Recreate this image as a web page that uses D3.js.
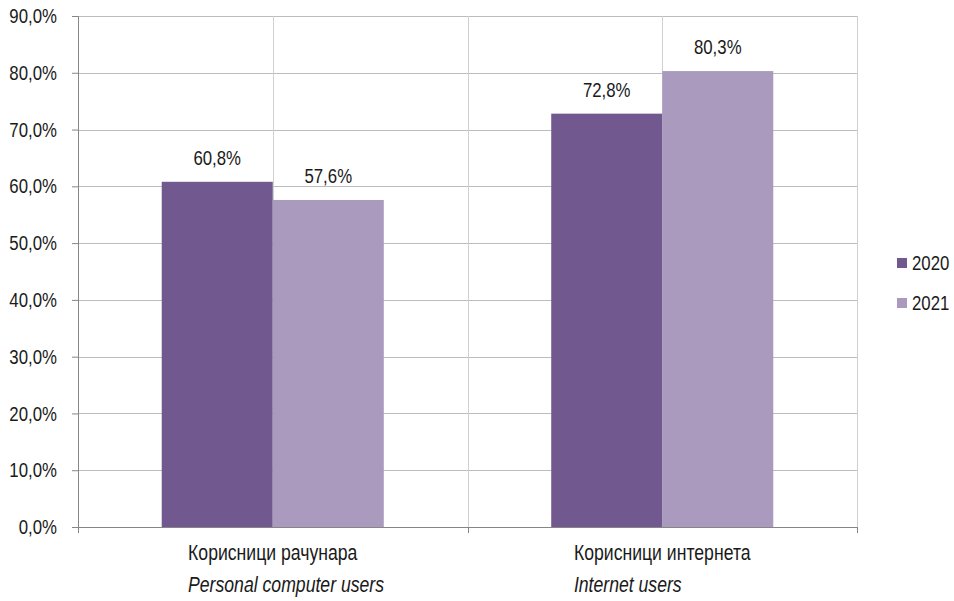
<!DOCTYPE html>
<html>
<head>
<meta charset="utf-8">
<script src="https://cdn.jsdelivr.net/npm/d3@7"></script>
<style>
  body { margin: 0; background: #fff; }
  text { font-family: "Liberation Sans", Arial, sans-serif; fill: #1a1a1a; }
</style>
</head>
<body>
<div id="chart"></div>
<script>
var categories = ["Корисници рачунара", "Корисници интернета"];
var categoriesEn = ["Personal computer users", "Internet users"];
var series = ["2020", "2021"];
var values2020 = [60.8, 72.8];
var values2021 = [57.6, 80.3];
var yTicks = [0, 10, 20, 30, 40, 50, 60, 70, 80, 90];

var colors = {"2020": "#71598f", "2021": "#a99abe"};

var data = categories.map(function(c, i) {
  return {cat: c, en: categoriesEn[i], vals: [
    {s: "2020", v: values2020[i]},
    {s: "2021", v: values2021[i]}
  ]};
});

var fullWidth = 954, fullHeight = 601;
var margin = {top: 16, right: 97, bottom: 74, left: 78};
var width = fullWidth - margin.left - margin.right;
var height = fullHeight - margin.top - margin.bottom;
var fs = '20.5px';
var fsCat = '21.5px';
// the reference uses a narrow face, so squeeze regular text horizontally
var narrow = 0.82;

var svg = d3.select('#chart').append('svg')
  .attr('width', fullWidth)
  .attr('height', fullHeight)
  .append('g')
    .attr('transform', 'translate(' + margin.left + ',' + margin.top + ')');

var x0 = d3.scaleBand().domain(categories).range([0, width]).padding(0);
var x1 = d3.scaleBand().domain(series).range([0, x0.bandwidth()])
  .paddingInner(0).paddingOuter(0.754);
var y = d3.scaleLinear().domain([0, 90]).range([height, 0]);

var fmt = function(v) { return v.toFixed(1).replace('.', ',') + '%'; };

// horizontal gridlines
svg.append('g').selectAll('line.h')
    .data(yTicks.filter(function(t) { return t > 0; }))
  .enter().append('line')
    .attr('x1', 0).attr('x2', width)
    .attr('y1', function(d) { return Math.round(y(d)) + 0.5; })
    .attr('y2', function(d) { return Math.round(y(d)) + 0.5; })
    .attr('stroke', '#bcbcbc').attr('stroke-width', 1);

// vertical gridlines: category centres and boundaries
var vlines = [];
categories.forEach(function(c) {
  vlines.push(x0(c) + x0.bandwidth() / 2);
  vlines.push(x0(c) + x0.bandwidth());
});
svg.append('g').selectAll('line.v')
    .data(vlines)
  .enter().append('line')
    .attr('x1', function(d) { return Math.round(d) + 0.5; })
    .attr('x2', function(d) { return Math.round(d) + 0.5; })
    .attr('y1', 0).attr('y2', height)
    .attr('stroke', '#d0d0d0').attr('stroke-width', 1);

// bars
var groups = svg.selectAll('g.cat')
    .data(data)
  .enter().append('g')
    .attr('transform', function(d) { return 'translate(' + x0(d.cat) + ',0)'; });

groups.selectAll('rect')
    .data(function(d) { return d.vals; })
  .enter().append('rect')
    .attr('x', function(d) { return x1(d.s); })
    .attr('width', x1.bandwidth())
    .attr('y', function(d) { return y(d.v); })
    .attr('height', function(d) { return height - y(d.v); })
    .attr('fill', function(d) { return colors[d.s]; });

groups.selectAll('text.val')
    .data(function(d) { return d.vals; })
  .enter().append('text')
    .attr('x', function(d) { return x1(d.s) + x1.bandwidth() / 2; })
    .attr('y', function(d) { return y(d.v) - 17; })
    .attr('text-anchor', 'middle')
    .style('font-size', fs)
    .text(function(d) { return fmt(d.v); });

// y axis
var yAxis = d3.axisLeft(y).tickValues(yTicks).tickSize(6).tickPadding(15)
  .tickFormat(function(d) { return d.toFixed(1).replace('.', ',') + '%'; });
var yg = svg.append('g').call(yAxis);
yg.attr('font-family', null).attr('font-size', null);
yg.select('.domain').attr('stroke', '#868686');
yg.selectAll('.tick line').attr('stroke', '#868686');
yg.selectAll('.tick text').style('font-size', fs).attr('fill', '#1a1a1a');

// x axis line with ticks at category boundaries
var xg = svg.append('g').attr('transform', 'translate(0,' + height + ')');
xg.append('line').attr('x1', 0).attr('x2', width).attr('y1', 0.5).attr('y2', 0.5)
  .attr('stroke', '#868686');
var bounds = [0].concat(categories.map(function(c) { return x0(c) + x0.bandwidth(); }));
xg.selectAll('line.tick')
    .data(bounds)
  .enter().append('line')
    .attr('x1', function(d) { return Math.round(d) + 0.5; })
    .attr('x2', function(d) { return Math.round(d) + 0.5; })
    .attr('y1', 0).attr('y2', 6)
    .attr('stroke', '#868686');

// category labels: first line centred, second line left aligned to it
data.forEach(function(d) {
  var cx = x0(d.cat) + x0.bandwidth() / 2;
  var t1 = xg.append('text')
    .attr('x', cx).attr('y', 33)
    .attr('text-anchor', 'middle')
    .style('font-size', fsCat)
    .text(d.cat);
  var w = t1.node().getComputedTextLength() * narrow;
  xg.append('text')
    .attr('x', cx - w / 2).attr('y', 65)
    .style('font-size', fsCat)
    .style('font-style', 'italic')
    .text(d.en);
});

// legend
var legend = svg.append('g')
  .attr('transform', 'translate(' + (width + 40) + ',' + (y(46.5)) + ')');
series.forEach(function(s, i) {
  var g = legend.append('g').attr('transform', 'translate(0,' + (i * 40) + ')');
  g.append('rect').attr('x', 0).attr('y', -5).attr('width', 10).attr('height', 10)
    .attr('fill', colors[s]);
  g.append('text').attr('x', 15).attr('y', 0).attr('dy', '0.35em')
    .style('font-size', fs).text(s);
});

// squeeze every label around its own anchor x
d3.selectAll('text').each(function() {
  var t = d3.select(this);
  var x = +t.attr('x') || 0;
  t.attr('transform', 'translate(' + x + ',0) scale(' + narrow + ',1) translate(' + (-x) + ',0)');
});
</script>
</body>
</html>
